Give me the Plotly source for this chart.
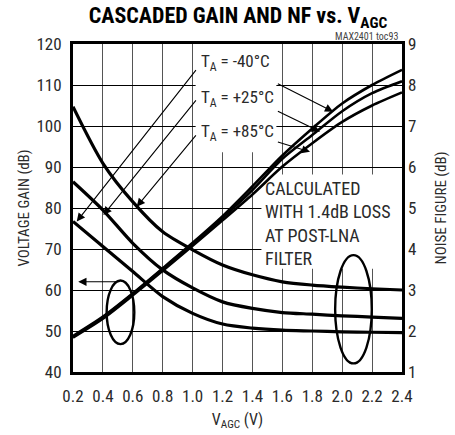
import plotly.graph_objects as go

# ---- data ----
vagc = [0.2, 0.4, 0.6, 0.8, 1.0, 1.2, 1.4, 1.6, 1.8, 2.0, 2.2, 2.4]

gain_m40 = [48.8, 53.5, 59.2, 65.3, 71.5, 78.0, 85.3, 92.8, 99.4, 105.5, 110.0, 113.7]
gain_p25 = [48.6, 53.3, 59.0, 65.1, 71.2, 77.6, 84.4, 92.0, 97.8, 103.6, 108.0, 110.9]
gain_p85 = [48.4, 53.0, 58.7, 64.7, 70.8, 77.0, 83.3, 90.1, 95.8, 101.0, 105.0, 108.2]

nf_p85 = [7.47, 6.09, 5.15, 4.42, 3.98, 3.61, 3.37, 3.20, 3.12, 3.07, 3.03, 3.00]
nf_p25 = [5.64, 4.95, 4.14, 3.49, 3.05, 2.71, 2.55, 2.45, 2.41, 2.37, 2.34, 2.31]
nf_m40 = [4.67, 4.06, 3.45, 2.84, 2.43, 2.17, 2.07, 2.02, 2.00, 1.98, 1.97, 1.96]

x_ticks = [0.2, 0.4, 0.6, 0.8, 1.0, 1.2, 1.4, 1.6, 1.8, 2.0, 2.2, 2.4]
x_ticklabels = ["0.2", "0.4", "0.6", "0.8", "1.0", "1.2", "1.4", "1.6", "1.8", "2.0", "2.2", "2.4"]
gain_ticks = [40, 50, 60, 70, 80, 90, 100, 110, 120]
nf_ticks = [1, 2, 3, 4, 5, 6, 7, 8, 9]

NARROW = "Liberation Sans Narrow, Arial Narrow, Roboto Condensed, Roboto, sans-serif"
TXT = "#2a2a2a"

fig = go.Figure()

for g in (gain_m40, gain_p25, gain_p85):
    fig.add_trace(go.Scatter(x=vagc, y=g, mode="lines", yaxis="y",
                             line=dict(color="black", width=2.6, shape="spline", smoothing=0.8),
                             showlegend=False, hoverinfo="skip"))
for n in (nf_p85, nf_p25, nf_m40):
    fig.add_trace(go.Scatter(x=vagc, y=n, mode="lines", yaxis="y2",
                             line=dict(color="black", width=3.2, shape="spline", smoothing=0.8),
                             showlegend=False, hoverinfo="skip"))

annotations = []
# temperature labels
for lab, yv in (("T<sub>A</sub> = -40°C", 115.4), ("T<sub>A</sub> = +25°C", 106.8), ("T<sub>A</sub> = +85°C", 98.5)):
    annotations.append(dict(x=1.04, y=yv, xref="x", yref="y", text=lab, showarrow=False,
                            xanchor="left", yanchor="middle",
                            font=dict(family=NARROW, size=17, color=TXT)))
# arrows (tip at curve, tail at label)
arrows = [
    (0.225, 76.7, 1.03, 114.0),
    (0.403, 78.3, 1.03, 106.6),
    (0.626, 80.3, 1.03, 98.1),
    (1.94, 103.5, 1.56, 110.5),
    (1.852, 98.6, 1.56, 103.8),
    (1.785, 93.7, 1.56, 96.2),
    (0.235, 62.0, 0.52, 62.0),
]
for tx, ty, ax, ay in arrows:
    annotations.append(dict(x=tx, y=ty, xref="x", yref="y", ax=ax, ay=ay, axref="x", ayref="y",
                            text="", showarrow=True, arrowhead=2, arrowsize=1.5, arrowwidth=1.1,
                            arrowcolor="black", standoff=0))
# calculated note
annotations.append(dict(x=1.47, y=76.2, xref="x", yref="y",
                        text="CALCULATED<br>WITH 1.4dB LOSS<br>AT POST-LNA<br>FILTER",
                        showarrow=False, xanchor="left", yanchor="middle", align="left",
                        font=dict(family=NARROW, size=18, color=TXT)))
# small id
annotations.append(dict(x=1.0, y=1.0, xref="paper", yref="paper", text="MAX2401 toc93",
                        showarrow=False, xanchor="right", yanchor="bottom", yshift=0, xshift=-2,
                        font=dict(family=NARROW, size=10, color="#444")))

shapes = [
    dict(type="rect", xref="x", yref="y", x0=1.02, x1=1.56, y0=93.6, y1=120,
         fillcolor="white", line=dict(width=0), layer="between"),
    dict(type="rect", xref="x", yref="y", x0=1.46, x1=2.4, y0=65.2, y1=88.2,
         fillcolor="white", line=dict(width=0), layer="between"),
    dict(type="circle", xref="x", yref="y", x0=0.425, x1=0.61, y0=46.8, y1=62.3,
         line=dict(color="black", width=2.4)),
    dict(type="circle", xref="x", yref="y", x0=1.953, x1=2.198, y0=42.1, y1=68.5,
         line=dict(color="black", width=2.4)),
]

fig.update_layout(
    width=455, height=435,
    margin=dict(l=73, r=53, t=44, b=63, autoexpand=False),
    paper_bgcolor="white", plot_bgcolor="white",
    title=dict(text="<b>CASCADED GAIN AND NF vs. V<sub>AGC</sub></b>", x=0.523, y=0.965,
               xanchor="center", yanchor="middle", xref="container", yref="container",
               font=dict(family=NARROW, size=22, color="black")),
    xaxis=dict(range=[0.2, 2.4], tickvals=x_ticks, ticktext=x_ticklabels,
               showgrid=True, gridcolor="#555", gridwidth=1,
               showline=True, linecolor="black", linewidth=3, mirror=True,
               ticks="", ticklabelstandoff=7, zeroline=False, automargin=False,
               tickfont=dict(family=NARROW, size=17, color=TXT),
               title=dict(text="V<sub>AGC</sub> (V)", standoff=9,
                          font=dict(family=NARROW, size=16, color=TXT))),
    yaxis=dict(range=[40, 120], tickvals=gain_ticks,
               showgrid=True, gridcolor="black", gridwidth=1,
               showline=True, linecolor="black", linewidth=3, mirror=True,
               ticks="", ticklabelstandoff=5, zeroline=False, automargin=False,
               tickfont=dict(family=NARROW, size=17, color=TXT),
               title=dict(text="VOLTAGE GAIN (dB)", standoff=4,
                          font=dict(family=NARROW, size=15, color=TXT))),
    yaxis2=dict(range=[1, 9], tickvals=nf_ticks, overlaying="y", side="right",
                showgrid=False, showline=False, ticks="", ticklabelstandoff=5, zeroline=False,
                automargin=False,
                tickfont=dict(family=NARROW, size=17, color=TXT),
                title=dict(text="NOISE FIGURE (dB)", standoff=20,
                           font=dict(family=NARROW, size=15, color=TXT))),
    annotations=annotations,
    shapes=shapes,
)

fig.write_html("out.html", config={"displayModeBar": False},
               post_script="document.body.style.margin='0';document.body.style.padding='0';")
